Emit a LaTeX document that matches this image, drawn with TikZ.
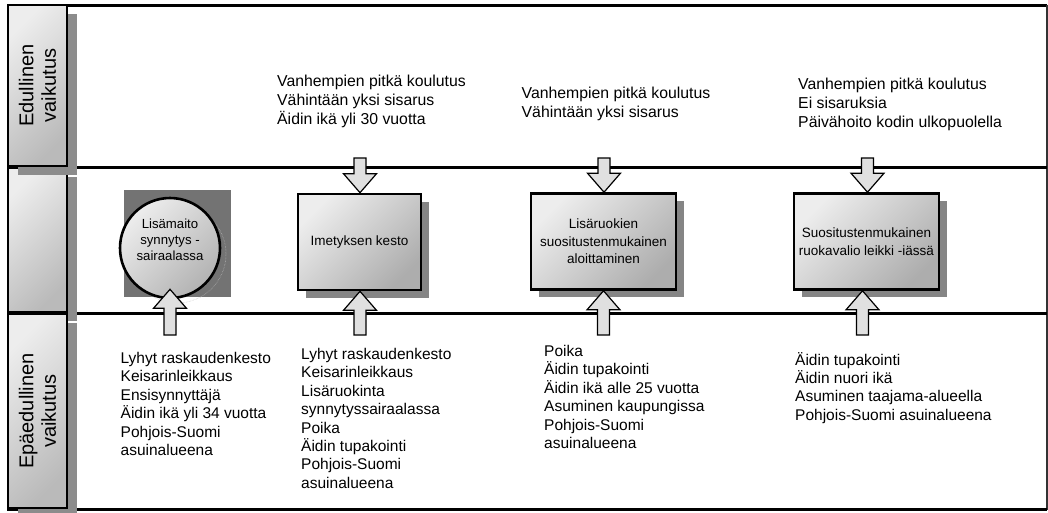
\documentclass[tikz,border=0pt]{standalone}
\usepackage{fontspec}
\setmainfont{Liberation Sans}
\usetikzlibrary{shadows,calc}
\tikzset{
  frameline/.style={line width=3pt, black},
  labbox/.style={draw=black, line width=2.6pt, top color=black!7, bottom color=black!27, shading angle=45,
    drop shadow={shadow xshift=10pt, shadow yshift=-9pt, fill=black!45, opacity=1},
    minimum width=59pt, inner sep=0pt},
  labtxt/.style={rotate=90, align=center, inner sep=0pt, font=\fontsize{20}{22.5}\selectfont},
  effbox/.style={draw=black, line width=2.6pt, top color=black!7, bottom color=black!32, shading angle=45,
    drop shadow={shadow xshift=8pt, shadow yshift=-7.5pt, fill=black!48, opacity=1},
    minimum height=96pt, inner sep=2pt, align=center, font=\fontsize{13.5}{17.5}\selectfont},
  circbox/.style={circle, draw=black, line width=2.6pt, top color=black!7, bottom color=black!30, shading angle=45,
    minimum size=100pt, inner sep=0pt},
  circtxt/.style={align=center, inner sep=0pt, font=\fontsize{13.2}{16.2}\selectfont},
  toptxt/.style={align=left, inner sep=0pt, anchor=base west, font=\fontsize{15.8}{19.2}\selectfont},
  bottxt/.style={align=left, inner sep=0pt, anchor=base west, font=\fontsize{15.5}{18.4}\selectfont},
  blk/.style={draw=black, line width=1.2pt, fill=black!12, line join=miter},
}
\newcommand\ardown[2]{\draw[blk] let \p1=(#1), \p2=(#2) in
  (\x1-6pt,\y1) -- (\x1+6pt,\y1) -- (\x1+6pt,\y2+19pt) -- (\x1+16.5pt,\y2+19pt) -- (\x1,\y2)
  -- (\x1-16.5pt,\y2+19pt) -- (\x1-6pt,\y2+19pt) -- cycle;}
\newcommand\arup[2]{\draw[blk] let \p1=(#1), \p2=(#2) in
  (\x1-6pt,\y1) -- (\x1+6pt,\y1) -- (\x1+6pt,\y2-19pt) -- (\x1+16.5pt,\y2-19pt) -- (\x1,\y2)
  -- (\x1-16.5pt,\y2-19pt) -- (\x1-6pt,\y2-19pt) -- cycle;}
\begin{document}
\begin{tikzpicture}[x=1pt, y=-1pt]
\useasboundingbox (0,0) rectangle (1048,512);
\fill[white] (0,0) rectangle (1048,512);

% frame
\draw[frameline] (68,5) -- (1047,5);
\draw[line width=1.6pt, black!80] (1047,5) -- (1047,509.5);
\draw[frameline] (68,167.5) -- (1047,167.5);
\draw[frameline] (68,313.5) -- (1047,313.5);
\draw[frameline] (7,509.5) -- (1047,509.5);

% row labels
\node[labbox, minimum height=144pt] (l2) at (37.5,240) {};
\node[labbox, minimum height=161pt, label={[labtxt]center:{Edullinen\\vaikutus}}] (l1) at (37.5,85.5) {};
\node[labbox, minimum height=194pt, label={[labtxt]center:{Epäedullinen\\vaikutus}}] (l3) at (37.5,411) {};

% circle with its square shadow
\fill[black!55] (124,190) rectangle (231,297);
\draw[white!75!black, densely dotted, line width=0.5pt] (177,254) circle (49pt);
\node[circbox, label={[circtxt, yshift=8pt]center:{Lisämaito\\synnytys -\\sairaalassa}}] (c) at (170,248) {};

% outcome boxes
\node[effbox, minimum width=123pt] (b1) at (359.5,242) {Imetyksen kesto};
\node[effbox, minimum width=145pt] (b2) at (603.5,241.5) {Lisäruokien\\suositustenmukainen\\aloittaminen};
\node[effbox, minimum width=145pt] (b3) at (866.5,241.5) {Suositustenmukainen\\ruokavalio leikki -iässä};

% favourable factors (anchor = baseline of last line)
\node[toptxt] (t1) at (277,124.4) {Vanhempien pitkä koulutus\\Vähintään yksi sisarus\\Äidin ikä yli 30 vuotta};
\node[toptxt] (t2) at (521.5,117.2) {Vanhempien pitkä koulutus\\Vähintään yksi sisarus};
\node[toptxt] (t3) at (798,127.9) {Vanhempien pitkä koulutus\\Ei sisaruksia\\Päivähoito kodin ulkopuolella};

% unfavourable factors (anchor = baseline of last line)
\node[bottxt] (u0) at (120.5,455.5) {Lyhyt raskaudenkesto\\Keisarinleikkaus\\Ensisynnyttäjä\\Äidin ikä yli 34 vuotta\\Pohjois-Suomi\\asuinalueena};
\node[bottxt] (u1) at (301,488.3) {Lyhyt raskaudenkesto\\Keisarinleikkaus\\Lisäruokinta\\synnytyssairaalassa\\Poika\\Äidin tupakointi\\Pohjois-Suomi\\asuinalueena};
\node[bottxt] (u2) at (544,448.5) {Poika\\Äidin tupakointi\\Äidin ikä alle 25 vuotta\\Asuminen kaupungissa\\Pohjois-Suomi\\asuinalueena};
\node[bottxt] (u3) at (795,420.2) {Äidin tupakointi\\Äidin nuori ikä\\Asuminen taajama-alueella\\Pohjois-Suomi asuinalueena};

% arrows
\coordinate (a1) at (360,158);
\coordinate (a2) at (604,158);
\coordinate (a3) at (867.5,158);
\ardown{a1}{b1.north}
\ardown{a2}{b2.north}
\ardown{a3}{b3.north}
\coordinate (d0) at (170,335);
\coordinate (d1) at (360,335);
\coordinate (d2) at (603.5,335);
\coordinate (d3) at (862.5,335);
\arup{d0}{[yshift=10pt]c.south}
\arup{d1}{b1.south}
\arup{d2}{b2.south}
\arup{d3}{b3.south}
\end{tikzpicture}
\end{document}
